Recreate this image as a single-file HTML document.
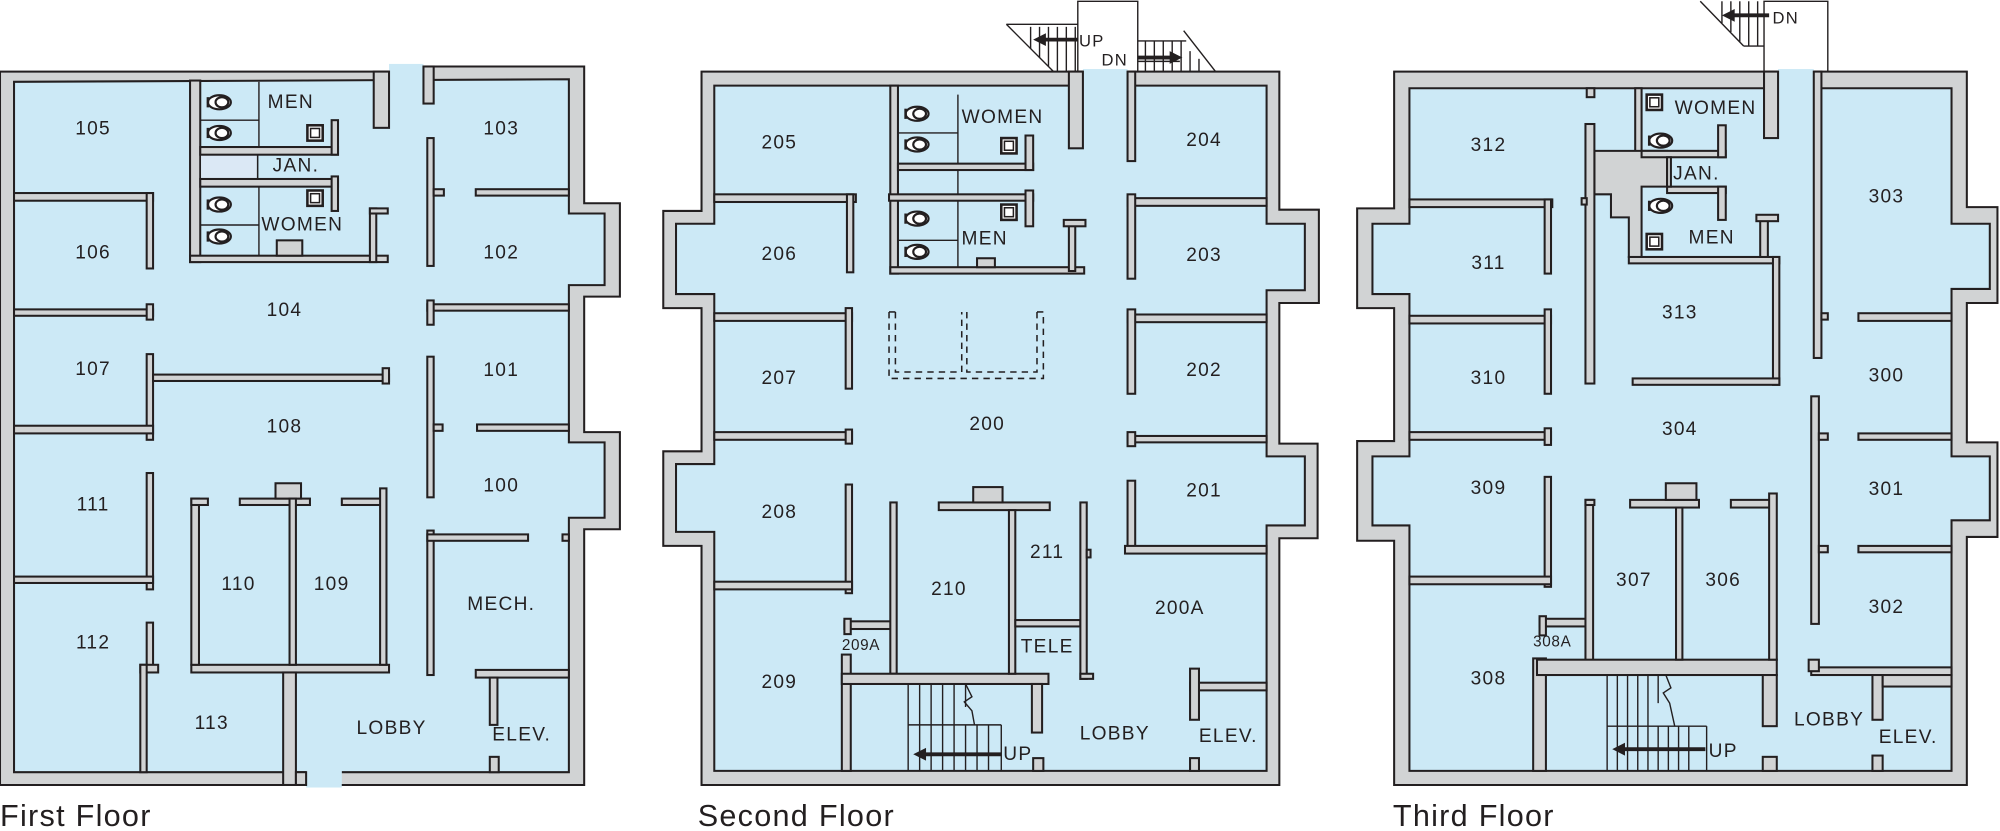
<!DOCTYPE html>
<html><head><meta charset="utf-8"><style>
html,body{margin:0;padding:0;background:#fff;}
svg{display:block}
.w{fill:#d1d3d4;stroke:#231f20;stroke-width:1.6}
.b{fill:#cce9f6;stroke:#231f20;stroke-width:1.6}
.g{fill:#cce9f6;stroke:none}
.l{stroke:#231f20;stroke-width:1.1;fill:none}
.t{font-family:"Liberation Sans",sans-serif;font-size:15px;fill:#231f20;text-anchor:middle;dominant-baseline:central;letter-spacing:1px}
.s{font-size:12px;letter-spacing:0.5px}
.f{font-family:"Liberation Sans",sans-serif;font-size:24px;fill:#231f20;letter-spacing:1px}
.sq{fill:#fff;stroke:#231f20;stroke-width:2}
</style></head><body>
<svg width="2000" height="831" viewBox="0 0 1568 650" preserveAspectRatio="none" xmlns="http://www.w3.org/2000/svg">
<defs>
<g id="toi"><ellipse cx="0" cy="0" rx="9" ry="5.5" fill="#fff" stroke="#231f20" stroke-width="1.7"/><ellipse cx="2" cy="0" rx="5" ry="4" fill="#fff" stroke="#231f20" stroke-width="1.7"/><line x1="-9" y1="-4" x2="-9" y2="4" stroke="#231f20" stroke-width="2"/></g>
<g id="sqr"><rect x="-6" y="-6" width="12" height="12" class="sq"/><rect x="-3.5" y="-3.5" width="7" height="7" fill="#fff" stroke="#231f20" stroke-width="1.2"/></g>
</defs>

<!-- ================= FIRST FLOOR ================= -->
<polygon class="w" points="0,56 332,56 332,52 458,52 458,159 486,159 486,232 458,232 458,338 486,338 486,414 458,414 458,614 0,614"/>
<polygon class="b" points="11,64 446,62 446,167 474,167 474,223 446,223 446,346 474,346 474,405 446,405 446,604 11,604"/>
<rect class="g" x="305" y="50" width="27" height="16"/>
<rect class="g" x="240" y="600" width="28" height="16"/>
<line class="l" x1="0" y1="56" x2="305" y2="56"/><line class="l" x1="332" y1="52" x2="458" y2="52"/>
<line class="l" x1="0" y1="614" x2="240" y2="614"/><line class="l" x1="268" y1="614" x2="458" y2="614"/>
<rect class="w" x="293" y="56" width="12" height="44"/>
<rect class="w" x="332" y="52" width="8" height="29"/>
<rect class="w" x="149" y="63" width="8" height="142"/>
<rect class="w" x="149" y="200" width="155" height="5"/>
<rect class="w" x="217" y="188" width="20" height="12"/>
<rect x="157" y="121" width="45" height="19" fill="#dbe8f5" stroke="#231f20" stroke-width="1.2"/>
<rect class="w" x="157" y="115" width="108" height="6"/>
<rect class="w" x="157" y="140" width="108" height="6"/>
<rect class="w" x="260" y="94" width="5" height="27"/>
<rect class="w" x="260" y="138" width="5" height="27"/>
<rect class="w" x="290" y="163" width="5" height="42"/>
<rect class="w" x="290" y="163" width="14" height="4"/>
<line class="l" x1="203" y1="64" x2="203" y2="115"/><line class="l" x1="203" y1="146" x2="203" y2="200"/>
<line class="l" x1="157" y1="94" x2="203" y2="94"/><line class="l" x1="157" y1="176" x2="203" y2="176"/>
<use href="#toi" x="172" y="80"/><use href="#toi" x="172" y="104"/><use href="#toi" x="172" y="160"/><use href="#toi" x="172" y="185"/>
<use href="#sqr" x="247" y="104"/><use href="#sqr" x="247" y="155"/>
<rect class="w" x="11" y="151" width="109" height="6"/><rect class="w" x="115" y="151" width="5" height="59"/>
<rect class="w" x="11" y="242" width="109" height="5"/><rect class="w" x="115" y="238" width="5" height="12"/>
<rect class="w" x="115" y="277" width="5" height="67"/><rect class="w" x="120" y="293" width="185" height="5"/><rect class="w" x="300" y="288" width="5" height="12"/>
<rect class="w" x="11" y="333" width="109" height="6"/>
<rect class="w" x="115" y="370" width="5" height="91"/><rect class="w" x="11" y="451" width="109" height="5"/>
<rect class="w" x="115" y="487" width="5" height="35"/><rect class="w" x="110" y="520" width="14" height="6"/><rect class="w" x="110" y="520" width="5" height="84"/>
<rect class="w" x="150" y="520" width="155" height="6"/>
<rect class="w" x="222" y="526" width="10" height="88"/><rect class="w" x="232" y="604" width="8" height="10"/>
<rect class="w" x="150" y="390" width="6" height="130"/><rect class="w" x="150" y="390" width="13" height="5"/>
<rect class="w" x="188" y="390" width="55" height="5"/><rect class="w" x="216" y="378" width="20" height="12"/>
<rect class="w" x="227" y="390" width="5" height="130"/>
<rect class="w" x="268" y="390" width="35" height="5"/><rect class="w" x="298" y="382" width="5" height="138"/>
<rect class="w" x="335" y="108" width="5" height="100"/><rect class="w" x="340" y="148" width="8" height="5"/>
<rect class="w" x="373" y="148" width="73" height="5"/>
<rect class="w" x="335" y="238" width="111" height="5"/><rect class="w" x="335" y="235" width="5" height="19"/>
<rect class="w" x="335" y="279" width="5" height="110"/><rect class="w" x="340" y="332" width="7" height="5"/>
<rect class="w" x="374" y="332" width="72" height="5"/>
<rect class="w" x="335" y="415" width="5" height="113"/><rect class="w" x="335" y="418" width="79" height="5"/><rect class="w" x="441" y="418" width="5" height="5"/>
<rect class="w" x="373" y="524" width="73" height="6"/><rect class="w" x="384" y="530" width="6" height="37"/><rect class="w" x="384" y="592" width="7" height="12"/>
<text class="t" x="73" y="101">105</text><text class="t" x="73" y="198">106</text><text class="t" x="223" y="243">104</text>
<text class="t" x="73" y="289">107</text><text class="t" x="223" y="334">108</text><text class="t" x="73" y="395">111</text>
<text class="t" x="187" y="457">110</text><text class="t" x="260" y="457">109</text><text class="t" x="73" y="503">112</text>
<text class="t" x="166" y="566">113</text><text class="t" x="228" y="80">MEN</text><text class="t" x="232" y="130">JAN.</text>
<text class="t" x="237" y="176">WOMEN</text><text class="t" x="393" y="101">103</text><text class="t" x="393" y="198">102</text>
<text class="t" x="393" y="290">101</text><text class="t" x="393" y="380">100</text><text class="t" x="393" y="473">MECH.</text>
<text class="t" x="307" y="570">LOBBY</text><text class="t" x="409" y="575">ELEV.</text>
<text class="f" x="0" y="646">First Floor</text>

<!-- ================= SECOND FLOOR ================= -->
<polyline class="l" points="845,56 845,1 892,1 892,56" stroke-width="1.3"/>
<g class="l">
<line x1="789" y1="19" x2="826" y2="56"/><line x1="789" y1="19" x2="845" y2="19"/>
<line x1="808" y1="21" x2="808" y2="38"/><line x1="815" y1="21" x2="815" y2="45"/><line x1="822" y1="21" x2="822" y2="52"/><line x1="829" y1="21" x2="829" y2="56"/><line x1="836" y1="21" x2="836" y2="56"/><line x1="843" y1="21" x2="843" y2="56"/>
<line x1="892" y1="32" x2="930" y2="32"/><line x1="928" y1="24" x2="953" y2="56"/>
<line x1="898" y1="32" x2="898" y2="56"/><line x1="905" y1="32" x2="905" y2="56"/><line x1="912" y1="32" x2="912" y2="56"/><line x1="919" y1="32" x2="919" y2="56"/><line x1="926" y1="32" x2="926" y2="56"/><line x1="933" y1="40" x2="933" y2="56"/><line x1="940" y1="46" x2="940" y2="56"/>
<line x1="892" y1="48" x2="925" y2="48"/>
</g>
<line x1="845" y1="31" x2="818" y2="31" stroke="#231f20" stroke-width="3"/><polygon points="810,31 820,26 820,36" fill="#231f20"/>
<line x1="892" y1="45" x2="918" y2="45" stroke="#231f20" stroke-width="3"/><polygon points="927,45 917,40 917,50" fill="#231f20"/>
<text class="t" x="856" y="32" style="font-size:13px">UP</text><text class="t" x="874" y="47" style="font-size:13px">DN</text>

<polygon class="w" points="550,56 1003,56 1003,164 1034,164 1034,237 1003,237 1003,347 1033,347 1033,421 1003,421 1003,614 550,614 550,427 520,427 520,353 550,353 550,241 520,241 520,165 550,165"/>
<polygon class="b" points="560,67 993,67 993,175 1023,175 1023,227 993,227 993,357 1023,357 1023,411 993,411 993,603 560,603 560,416 530,416 530,363 560,363 560,230 530,230 530,175 560,175"/>
<rect class="g" x="849" y="54" width="35" height="15"/>
<line class="l" x1="550" y1="56" x2="849" y2="56"/><line class="l" x1="884" y1="56" x2="1003" y2="56"/>
<rect class="w" x="838" y="56" width="11" height="60"/><rect class="w" x="884" y="56" width="6" height="70"/>
<rect class="w" x="698" y="67" width="6" height="147"/><rect class="w" x="698" y="209" width="152" height="5"/>
<rect class="w" x="766" y="202" width="14" height="7"/>
<rect class="w" x="838" y="175" width="5" height="37"/><rect class="w" x="834" y="172" width="17" height="5"/>
<rect class="w" x="704" y="128" width="106" height="5"/><rect class="w" x="804" y="106" width="6" height="27"/>
<rect class="w" x="697" y="152" width="113" height="5"/><rect class="w" x="804" y="149" width="6" height="28"/>
<line class="l" x1="751" y1="74" x2="751" y2="128"/><line class="l" x1="751" y1="133" x2="751" y2="152"/><line class="l" x1="751" y1="157" x2="751" y2="209"/>
<line class="l" x1="704" y1="104" x2="751" y2="104"/><line class="l" x1="704" y1="188" x2="751" y2="188"/>
<use href="#toi" x="719" y="89"/><use href="#toi" x="719" y="113"/><use href="#toi" x="719" y="171"/><use href="#toi" x="719" y="197"/>
<use href="#sqr" x="791" y="114"/><use href="#sqr" x="791" y="166"/>
<rect class="w" x="560" y="152" width="111" height="6"/><rect class="w" x="664" y="152" width="5" height="61"/>
<rect class="w" x="560" y="245" width="108" height="6"/><rect class="w" x="663" y="241" width="5" height="63"/>
<rect class="w" x="560" y="338" width="108" height="6"/><rect class="w" x="663" y="336" width="5" height="11"/>
<rect class="w" x="663" y="379" width="5" height="85"/><rect class="w" x="560" y="455" width="108" height="6"/>
<rect class="w" x="662" y="486" width="37" height="6"/><rect class="w" x="662" y="484" width="5" height="12"/>
<rect class="w" x="660" y="512" width="7" height="91"/>
<rect class="w" x="698" y="393" width="5" height="134"/>
<rect class="w" x="660" y="527" width="162" height="8"/><rect class="w" x="809" y="535" width="8" height="38"/><rect class="w" x="810" y="593" width="8" height="10"/>
<rect class="w" x="736" y="393" width="87" height="6"/><rect class="w" x="763" y="381" width="23" height="12"/>
<rect class="w" x="791" y="399" width="5" height="128"/>
<rect class="w" x="796" y="485" width="51" height="5"/>
<rect class="w" x="847" y="393" width="5" height="138"/><rect class="w" x="847" y="527" width="10" height="4"/><rect class="w" x="852" y="430" width="3" height="6"/>
<rect class="w" x="884" y="155" width="109" height="6"/><rect class="w" x="884" y="152" width="6" height="66"/>
<rect class="w" x="884" y="246" width="109" height="6"/><rect class="w" x="884" y="242" width="6" height="66"/>
<rect class="w" x="884" y="341" width="109" height="5"/><rect class="w" x="884" y="338" width="6" height="11"/>
<rect class="w" x="884" y="376" width="6" height="55"/><rect class="w" x="882" y="427" width="111" height="6"/>
<rect class="w" x="933" y="534" width="60" height="6"/><rect class="w" x="933" y="523" width="7" height="40"/><rect class="w" x="933" y="593" width="7" height="10"/>
<g stroke="#231f20" stroke-width="1.2" fill="none" stroke-dasharray="5,4">
<polyline points="697,244 697,296 818,296 818,244"/><polyline points="702,244 702,291 754,291 754,244"/><polyline points="758,244 758,291 813,291 813,244"/>
<line x1="697" y1="244" x2="702" y2="244" stroke-dasharray="none"/><line x1="813" y1="244" x2="818" y2="244" stroke-dasharray="none"/>
</g>
<g class="l">
<line x1="712" y1="535" x2="712" y2="603"/><line x1="721" y1="535" x2="721" y2="567"/><line x1="730" y1="535" x2="730" y2="567"/><line x1="739" y1="535" x2="739" y2="567"/><line x1="748" y1="535" x2="748" y2="567"/><line x1="757" y1="535" x2="757" y2="553"/>
<polyline points="757,535 762,545 756,549 762,556 764,567"/>
<line x1="712" y1="567" x2="785" y2="567"/>
<line x1="721" y1="567" x2="721" y2="603"/><line x1="730" y1="567" x2="730" y2="603"/><line x1="739" y1="567" x2="739" y2="603"/><line x1="748" y1="567" x2="748" y2="603"/><line x1="757" y1="567" x2="757" y2="603"/><line x1="766" y1="567" x2="766" y2="603"/><line x1="775" y1="567" x2="775" y2="603"/><line x1="785" y1="567" x2="785" y2="603"/>
</g>
<line x1="785" y1="590" x2="724" y2="590" stroke="#231f20" stroke-width="3"/><polygon points="716,590 726,585 726,595" fill="#231f20"/>
<text class="t" x="798" y="590">UP</text>
<text class="t" x="611" y="112">205</text><text class="t" x="611" y="199">206</text><text class="t" x="611" y="296">207</text>
<text class="t" x="611" y="401">208</text><text class="t" x="611" y="534">209</text><text class="t s" x="675" y="505">209A</text>
<text class="t" x="744" y="461">210</text><text class="t" x="821" y="432">211</text><text class="t" x="821" y="506">TELE</text>
<text class="t" x="774" y="332">200</text><text class="t" x="925" y="476">200A</text>
<text class="t" x="944" y="110">204</text><text class="t" x="944" y="200">203</text><text class="t" x="944" y="290">202</text><text class="t" x="944" y="384">201</text>
<text class="t" x="874" y="574">LOBBY</text><text class="t" x="963" y="576">ELEV.</text>
<text class="t" x="786" y="92">WOMEN</text><text class="t" x="772" y="187">MEN</text>
<text class="f" x="547" y="646">Second Floor</text>

<!-- ================= THIRD FLOOR ================= -->
<polyline class="l" points="1383,56 1383,1 1433,1 1433,56" stroke-width="1.3"/>
<g class="l">
<line x1="1333" y1="1" x2="1367" y2="36"/><line x1="1367" y1="36" x2="1383" y2="36"/>
<line x1="1350" y1="1" x2="1350" y2="18"/><line x1="1357" y1="1" x2="1357" y2="25"/><line x1="1364" y1="1" x2="1364" y2="33"/><line x1="1371" y1="1" x2="1371" y2="36"/><line x1="1378" y1="1" x2="1378" y2="36"/>
</g>
<line x1="1387" y1="12" x2="1358" y2="12" stroke="#231f20" stroke-width="3"/><polygon points="1350,12 1360,7 1360,17" fill="#231f20"/>
<text class="t" x="1400" y="14" style="font-size:13px">DN</text>

<polygon class="w" points="1093,56 1542,56 1542,162 1566,162 1566,237 1542,237 1542,346 1566,346 1566,420 1542,420 1542,614 1093,614 1093,423 1064,423 1064,345 1093,345 1093,241 1064,241 1064,163 1093,163"/>
<polygon class="b" points="1105,69 1530,69 1530,175 1560,175 1560,226 1530,226 1530,357 1560,357 1560,407 1530,407 1530,603 1105,603 1105,411 1076,411 1076,357 1105,357 1105,230 1076,230 1076,175 1105,175"/>
<rect class="g" x="1394" y="54" width="28" height="17"/>
<line class="l" x1="1093" y1="56" x2="1394" y2="56"/><line class="l" x1="1422" y1="56" x2="1542" y2="56"/>
<rect class="w" x="1383" y="56" width="11" height="52"/>
<rect class="w" x="1422" y="56" width="6" height="224"/><rect class="w" x="1428" y="245" width="5" height="5"/>
<rect class="w" x="1244" y="69" width="6" height="7"/>
<rect class="w" x="1282" y="69" width="5" height="50"/>
<polygon class="w" points="1250,118 1307,118 1307,146 1287,146 1287,201 1277,201 1277,170 1263,170 1263,152 1250,152"/>
<rect class="w" x="1243" y="97" width="7" height="203"/><rect class="w" x="1240" y="155" width="4" height="5"/>
<rect class="w" x="1287" y="118" width="66" height="5"/><rect class="w" x="1347" y="98" width="6" height="25"/>
<rect class="w" x="1307" y="146" width="46" height="5"/><rect class="w" x="1347" y="146" width="6" height="26"/>
<rect class="w" x="1307" y="123" width="3" height="23"/>
<rect class="w" x="1277" y="201" width="118" height="5"/><rect class="w" x="1390" y="201" width="5" height="100"/>
<rect class="w" x="1280" y="296" width="115" height="5"/>
<rect class="w" x="1380" y="170" width="6" height="31"/><rect class="w" x="1377" y="168" width="17" height="5"/>
<use href="#sqr" x="1297" y="80"/><use href="#toi" x="1302" y="110"/><use href="#toi" x="1302" y="161"/><use href="#sqr" x="1297" y="189"/>
<rect class="w" x="1105" y="156" width="112" height="6"/><rect class="w" x="1211" y="156" width="5" height="58"/>
<rect class="w" x="1105" y="247" width="111" height="6"/><rect class="w" x="1211" y="242" width="5" height="66"/>
<rect class="w" x="1105" y="338" width="111" height="6"/><rect class="w" x="1211" y="335" width="5" height="13"/>
<rect class="w" x="1211" y="373" width="5" height="86"/><rect class="w" x="1105" y="451" width="111" height="6"/>
<rect class="w" x="1207" y="484" width="37" height="6"/><rect class="w" x="1207" y="482" width="5" height="15"/>
<rect class="w" x="1202" y="515" width="10" height="88"/>
<rect class="w" x="1243" y="391" width="6" height="127"/><rect class="w" x="1243" y="391" width="7" height="4"/>
<rect class="w" x="1205" y="516" width="188" height="12"/>
<rect class="w" x="1382" y="528" width="11" height="40"/><rect class="w" x="1382" y="592" width="11" height="11"/>
<rect class="w" x="1278" y="391" width="54" height="6"/><rect class="w" x="1306" y="378" width="24" height="13"/>
<rect class="w" x="1314" y="397" width="5" height="119"/>
<rect class="w" x="1357" y="391" width="35" height="6"/><rect class="w" x="1387" y="386" width="6" height="130"/>
<rect class="w" x="1457" y="245" width="73" height="6"/>
<rect class="w" x="1420" y="310" width="6" height="178"/><rect class="w" x="1426" y="339" width="7" height="5"/><rect class="w" x="1426" y="427" width="7" height="5"/>
<rect class="w" x="1457" y="339" width="73" height="5"/><rect class="w" x="1457" y="427" width="73" height="5"/>
<rect class="w" x="1420" y="522" width="110" height="6"/><rect class="w" x="1418" y="516" width="8" height="9"/>
<rect class="w" x="1468" y="528" width="8" height="35"/><rect class="w" x="1476" y="528" width="54" height="9"/>
<rect class="w" x="1468" y="591" width="8" height="12"/>
<g class="l">
<line x1="1260" y1="528" x2="1260" y2="603"/><line x1="1268" y1="528" x2="1268" y2="568"/><line x1="1276" y1="528" x2="1276" y2="568"/><line x1="1284" y1="528" x2="1284" y2="568"/><line x1="1292" y1="528" x2="1292" y2="568"/><line x1="1300" y1="528" x2="1300" y2="550"/>
<polyline points="1306,528 1310,538 1304,542 1309,550 1313,568"/>
<line x1="1260" y1="568" x2="1338" y2="568"/>
<line x1="1268" y1="568" x2="1268" y2="603"/><line x1="1276" y1="568" x2="1276" y2="603"/><line x1="1284" y1="568" x2="1284" y2="603"/><line x1="1292" y1="568" x2="1292" y2="603"/><line x1="1300" y1="568" x2="1300" y2="603"/><line x1="1308" y1="568" x2="1308" y2="603"/><line x1="1316" y1="568" x2="1316" y2="603"/><line x1="1324" y1="568" x2="1324" y2="603"/><line x1="1338" y1="568" x2="1338" y2="603"/>
</g>
<line x1="1337" y1="586" x2="1272" y2="586" stroke="#231f20" stroke-width="3"/><polygon points="1264,586 1274,581 1274,591" fill="#231f20"/>
<text class="t" x="1351" y="588">UP</text>
<text class="t" x="1167" y="114">312</text><text class="t" x="1167" y="206">311</text><text class="t" x="1167" y="296">310</text>
<text class="t" x="1167" y="382">309</text><text class="t" x="1167" y="531">308</text><text class="t s" x="1217" y="502">308A</text>
<text class="t" x="1281" y="454">307</text><text class="t" x="1351" y="454">306</text><text class="t" x="1317" y="245">313</text>
<text class="t" x="1317" y="336">304</text><text class="t" x="1479" y="154">303</text><text class="t" x="1479" y="294">300</text>
<text class="t" x="1479" y="383">301</text><text class="t" x="1479" y="475">302</text>
<text class="t" x="1434" y="563">LOBBY</text><text class="t" x="1496" y="577">ELEV.</text>
<text class="t" x="1345" y="85">WOMEN</text><text class="t" x="1330" y="136">JAN.</text><text class="t" x="1342" y="186">MEN</text>
<text class="f" x="1092" y="646">Third Floor</text>
</svg>
</body></html>
